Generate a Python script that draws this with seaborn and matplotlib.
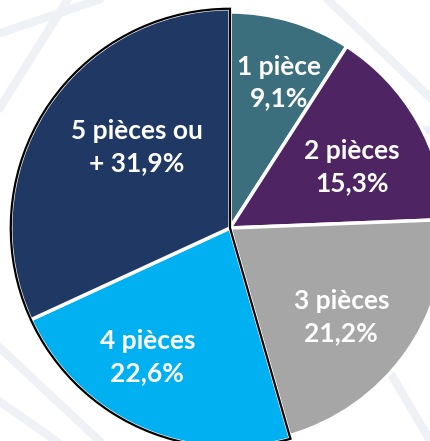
import numpy as np
import matplotlib
matplotlib.use("Agg")
import matplotlib.pyplot as plt
from matplotlib.patches import Wedge
import seaborn as sns

sns.set_theme(style="white")
plt.rcParams['font.family'] = ['Lato', 'DejaVu Sans']

categories = ["1 pièce", "2 pièces", "3 pièces", "4 pièces", "5 pièces ou\n+"]
shares = [9.1, 15.3, 21.2, 22.6, 31.9]
labels = ["1 pièce\n9,1%", "2 pièces\n15,3%", "3 pièces\n21,2%",
          "4 pièces\n22,6%", "5 pièces ou\n+ 31,9%"]
colors = ["#3B6F7D", "#4F2462", "#A6A6A6", "#00B0F0", "#203864"]

# label placement (radius fraction, angle offset in degrees)
lab_r = [0.71, 0.63, 0.66, 0.71, 0.57]
lab_da = [-2.2, -3.1, -2.8, -8.0, -8.2]

fig = plt.figure(figsize=(4.30, 4.41), dpi=100)
ax = fig.add_axes([0, 0, 1, 1])

# faint background network lines
bg = "#EEF2F7"
for (x0, y0, x1, y1) in [(-1.07, 0.55, -0.75, 1.06), (-1.07, 0.9, -0.6, 1.06),
                         (0.45, 1.06, 0.93, 0.6), (0.6, 0.5, 0.93, 0.45),
                         (-1.07, -0.55, -0.6, -0.99), (-1.07, -0.8, -0.8, -0.99),
                         (0.7, -0.6, 0.93, -0.99)]:
    ax.plot([x0, x1], [y0, y1], color=bg, lw=6, solid_capstyle="round", zorder=0)

wedges, _ = ax.pie(shares, colors=colors, startangle=90, counterclock=False,
                   radius=1.0, wedgeprops=dict(edgecolor="white", linewidth=2.5))
for w in wedges:
    w.set_zorder(2)

# the last two slices stand out slightly, with a dark outline
for w in wedges[3:]:
    w.set_radius(1.015)
t_end = wedges[3].theta2
t_start = wedges[4].theta1
outline = Wedge((0, 0), 1.015, t_start, t_end, fill=False, edgecolor="black",
                linewidth=1.6, zorder=3)
ax.add_patch(outline)

for w, lab, r, da in zip(wedges, labels, lab_r, lab_da):
    mid = np.deg2rad((w.theta1 + w.theta2) / 2 + da)
    ax.text(r * np.cos(mid), r * np.sin(mid), lab, color="white",
            fontsize=19, fontweight="bold", ha="center", va="center",
            linespacing=1.4, zorder=4)

ax.set_aspect("auto")
ax.set_xlim(-230 / 216, 200 / 216)
ax.set_ylim(-213 / 216, 228 / 216)
ax.axis("off")

fig.savefig("out.png", dpi=100, facecolor="white")
